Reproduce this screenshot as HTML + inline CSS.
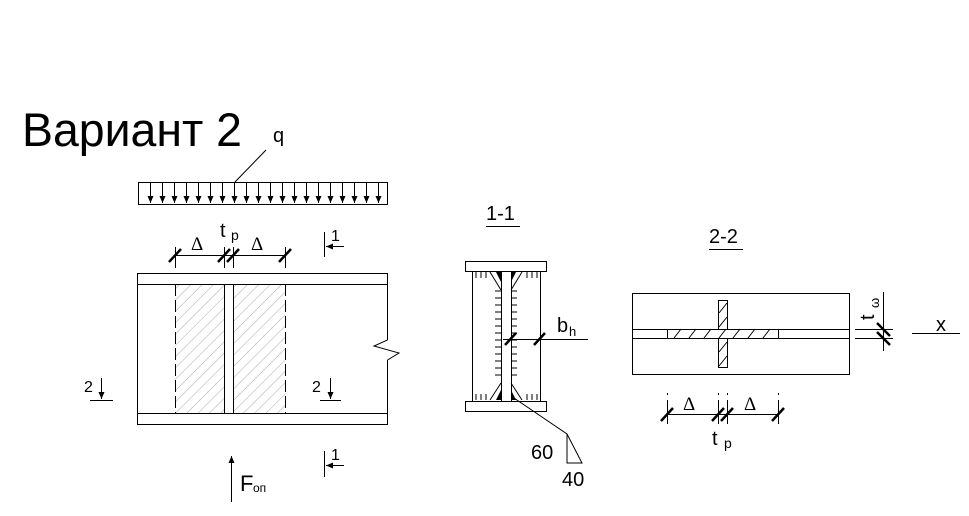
<!DOCTYPE html>
<html><head><meta charset="utf-8"><style>
html,body{margin:0;padding:0;background:#fff}
svg{display:block}
text{font-family:"Liberation Sans",sans-serif;fill:#000}
</style></head><body>
<svg width="969" height="516" viewBox="0 0 969 516" xmlns="http://www.w3.org/2000/svg">
<defs>
<pattern id="h1" patternUnits="userSpaceOnUse" width="8" height="8" patternTransform="rotate(45)">
<line x1="0" y1="0" x2="0" y2="8" stroke="#aaa" stroke-width="1"/>
</pattern>
<marker id="ar" markerWidth="8" markerHeight="8" refX="7" refY="3" orient="auto" markerUnits="userSpaceOnUse">
<path d="M0,0 L7,3 L0,6 z" fill="#000"/>
</marker>
</defs>

<text x="22" y="146" font-size="47" textLength="220" lengthAdjust="spacingAndGlyphs">Вариант 2</text>

<g stroke="#000" fill="none" stroke-width="1">
<rect x="138.5" y="182.5" width="249" height="22"/>
<line x1="235" y1="182" x2="266" y2="150"/>
</g>
<text x="273" y="142" font-size="20">q</text>
<g stroke="#000" stroke-width="1">
<line x1="150.5" y1="183" x2="150.5" y2="203" marker-end="url(#ar)"/>
<line x1="162.5" y1="183" x2="162.5" y2="203" marker-end="url(#ar)"/>
<line x1="174.5" y1="183" x2="174.5" y2="203" marker-end="url(#ar)"/>
<line x1="186.5" y1="183" x2="186.5" y2="203" marker-end="url(#ar)"/>
<line x1="198.5" y1="183" x2="198.5" y2="203" marker-end="url(#ar)"/>
<line x1="210.5" y1="183" x2="210.5" y2="203" marker-end="url(#ar)"/>
<line x1="222.5" y1="183" x2="222.5" y2="203" marker-end="url(#ar)"/>
<line x1="234.5" y1="183" x2="234.5" y2="203" marker-end="url(#ar)"/>
<line x1="246.5" y1="183" x2="246.5" y2="203" marker-end="url(#ar)"/>
<line x1="258.5" y1="183" x2="258.5" y2="203" marker-end="url(#ar)"/>
<line x1="270.5" y1="183" x2="270.5" y2="203" marker-end="url(#ar)"/>
<line x1="282.5" y1="183" x2="282.5" y2="203" marker-end="url(#ar)"/>
<line x1="294.5" y1="183" x2="294.5" y2="203" marker-end="url(#ar)"/>
<line x1="306.5" y1="183" x2="306.5" y2="203" marker-end="url(#ar)"/>
<line x1="318.5" y1="183" x2="318.5" y2="203" marker-end="url(#ar)"/>
<line x1="330.5" y1="183" x2="330.5" y2="203" marker-end="url(#ar)"/>
<line x1="342.5" y1="183" x2="342.5" y2="203" marker-end="url(#ar)"/>
<line x1="354.5" y1="183" x2="354.5" y2="203" marker-end="url(#ar)"/>
<line x1="366.5" y1="183" x2="366.5" y2="203" marker-end="url(#ar)"/>
<line x1="378.5" y1="183" x2="378.5" y2="203" marker-end="url(#ar)"/>
</g>

<rect x="175" y="284" width="49" height="129" fill="url(#h1)"/>
<rect x="233" y="284" width="52" height="129" fill="url(#h1)"/>
<g stroke="#000" fill="none" stroke-width="1">
<polyline points="387.5,340 387.5,273.5 137.5,273.5 137.5,424.5 387.5,424.5 387.5,360"/>
<polyline points="387.5,340 374,346 399,353 387.5,360"/>
<line x1="137" y1="284.5" x2="387" y2="284.5"/>
<line x1="137" y1="413.5" x2="387" y2="413.5"/>
<line x1="224.5" y1="284" x2="224.5" y2="413"/>
<line x1="233.5" y1="284" x2="233.5" y2="413"/>
<line x1="175.5" y1="284" x2="175.5" y2="413" stroke-dasharray="12,4"/>
<line x1="285.5" y1="284" x2="285.5" y2="413" stroke-dasharray="12,4"/>
<line x1="175" y1="255.5" x2="285" y2="255.5"/>
<line x1="175.5" y1="247" x2="175.5" y2="268"/>
<line x1="224.5" y1="247" x2="224.5" y2="268"/>
<line x1="233.5" y1="247" x2="233.5" y2="268"/>
<line x1="285.5" y1="247" x2="285.5" y2="268"/>
</g>
<g stroke="#000" stroke-width="2.5">
<line x1="169" y1="262" x2="181" y2="249"/>
<line x1="218" y1="262" x2="230" y2="249"/>
<line x1="227" y1="262" x2="239" y2="249"/>
<line x1="279" y1="262" x2="291" y2="249"/>
</g>
<text x="191" y="250" font-size="19" style="font-family:'Liberation Serif',serif">Δ</text>
<text x="251" y="250" font-size="19" style="font-family:'Liberation Serif',serif">Δ</text>
<text x="220" y="237" font-size="20">t</text>
<text x="231" y="240" font-size="14">p</text>

<g stroke="#000" stroke-width="1" fill="none">
<line x1="324.5" y1="232" x2="324.5" y2="257"/>
<line x1="344" y1="246.5" x2="326" y2="246.5" marker-end="url(#ar)"/>
<line x1="324.5" y1="451" x2="324.5" y2="477"/>
<line x1="344" y1="465.5" x2="326" y2="465.5" marker-end="url(#ar)"/>
<line x1="90" y1="400.5" x2="113" y2="400.5"/>
<line x1="101.5" y1="378" x2="101.5" y2="399" marker-end="url(#ar)"/>
<line x1="320" y1="400.5" x2="341" y2="400.5"/>
<line x1="330.5" y1="378" x2="330.5" y2="399" marker-end="url(#ar)"/>
<line x1="231.5" y1="502" x2="231.5" y2="456" marker-end="url(#ar)" />
</g>
<text x="331" y="241" font-size="16">1</text>
<text x="331" y="460" font-size="16">1</text>
<text x="84" y="392" font-size="16">2</text>
<text x="312" y="392" font-size="16">2</text>
<text x="240" y="491" font-size="22">F</text>
<text x="253" y="492" font-size="12">оп</text>

<text x="486" y="220" font-size="20">1-1</text>
<line x1="486" y1="226.5" x2="520" y2="226.5" stroke="#000"/>
<g stroke="#000" fill="none" stroke-width="1">
<rect x="465.5" y="261.5" width="81" height="10"/>
<rect x="465.5" y="401.5" width="81" height="10"/>
<line x1="472.5" y1="271" x2="472.5" y2="401"/>
<line x1="540.5" y1="271" x2="540.5" y2="401"/>
<line x1="501.5" y1="271" x2="501.5" y2="401"/>
<line x1="511.5" y1="271" x2="511.5" y2="401"/>
<line x1="490" y1="272" x2="501" y2="290"/>
<line x1="522" y1="272" x2="511" y2="290"/>
<line x1="490" y1="400" x2="501" y2="383"/>
<line x1="522" y1="400" x2="511" y2="383"/>
<path d="M476,272v6M481,272v6M486,272v6M527,272v6M532,272v6M537,272v6M476,400v-6M481,400v-6M486,400v-6M527,400v-6M532,400v-6M537,400v-6"/>
<path d="M495,291h6M495,298h6M495,305h6M495,312h6M495,319h6M495,326h6M495,333h6M495,340h6M495,347h6M495,354h6M495,361h6M495,368h6M495,375h6M511,291h6M511,298h6M511,305h6M511,312h6M511,319h6M511,326h6M511,333h6M511,340h6M511,347h6M511,354h6M511,361h6M511,368h6M511,375h6"/>
<line x1="503" y1="339.5" x2="588" y2="339.5"/>
<line x1="540.5" y1="330" x2="540.5" y2="340"/>
<polyline points="511,396 567,434 582,463 567,463 567,434"/>
</g>
<path d="M496,272 L501,272 L501,282 z M516,272 L511,272 L511,282 z M496,400 L501,400 L501,390 z M516,400 L511,400 L511,390 z" fill="#000"/>
<g stroke="#000" stroke-width="2.5">
<line x1="505" y1="345" x2="516" y2="333"/>
<line x1="534" y1="345" x2="545" y2="333"/>
</g>
<text x="557" y="332" font-size="20">b</text>
<text x="569" y="336" font-size="13">h</text>
<text x="531" y="459" font-size="20">60</text>
<text x="562" y="486" font-size="20">40</text>

<text x="709" y="243" font-size="20">2-2</text>
<line x1="709" y1="249.5" x2="743" y2="249.5" stroke="#000"/>
<g stroke="#000" fill="none" stroke-width="1">
<rect x="632.5" y="293.5" width="217" height="81"/>
<line x1="632" y1="329.5" x2="849" y2="329.5"/>
<line x1="632" y1="338.5" x2="849" y2="338.5"/>
<line x1="667.5" y1="329" x2="667.5" y2="338"/>
<line x1="778.5" y1="329" x2="778.5" y2="338"/>
<rect x="718.5" y="300.5" width="9" height="29"/>
<rect x="718.5" y="338.5" width="9" height="29"/>
<path d="M674,338l7,-9M689,338l7,-9M704,338l7,-9M719,338l7,-9M733,338l7,-9M748,338l7,-9M763,338l7,-9"/>
<path d="M719,313l8,-10M719,327l8,-10M719,352l8,-10M719,366l8,-10"/>
<line x1="855" y1="329.5" x2="893" y2="329.5"/>
<line x1="855" y1="338.5" x2="893" y2="338.5"/>
<line x1="883.5" y1="292" x2="883.5" y2="351"/>
<line x1="912" y1="333.5" x2="960" y2="333.5"/>
<line x1="667" y1="414.5" x2="778" y2="414.5"/>
<path d="M667.5,393v2M667.5,400v24M718.5,393v2M718.5,400v24M727.5,393v2M727.5,400v24M778.5,393v2M778.5,400v24"/>
</g>
<g stroke="#000" stroke-width="2.5">
<line x1="877" y1="323" x2="890" y2="336"/>
<line x1="877" y1="332" x2="890" y2="345"/>
<line x1="661" y1="421" x2="673" y2="408"/>
<line x1="712" y1="421" x2="724" y2="408"/>
<line x1="721" y1="421" x2="733" y2="408"/>
<line x1="772" y1="421" x2="784" y2="408"/>
</g>
<text transform="translate(874,320) rotate(-90)" font-size="20">t</text>
<text transform="translate(879,308) rotate(-90)" font-size="13">ω</text>
<text x="936" y="331" font-size="20">x</text>
<text x="683" y="410" font-size="19" style="font-family:'Liberation Serif',serif">Δ</text>
<text x="744" y="410" font-size="19" style="font-family:'Liberation Serif',serif">Δ</text>
<text x="712" y="445" font-size="20">t</text>
<text x="724" y="448" font-size="14">p</text>
</svg>
</body></html>
